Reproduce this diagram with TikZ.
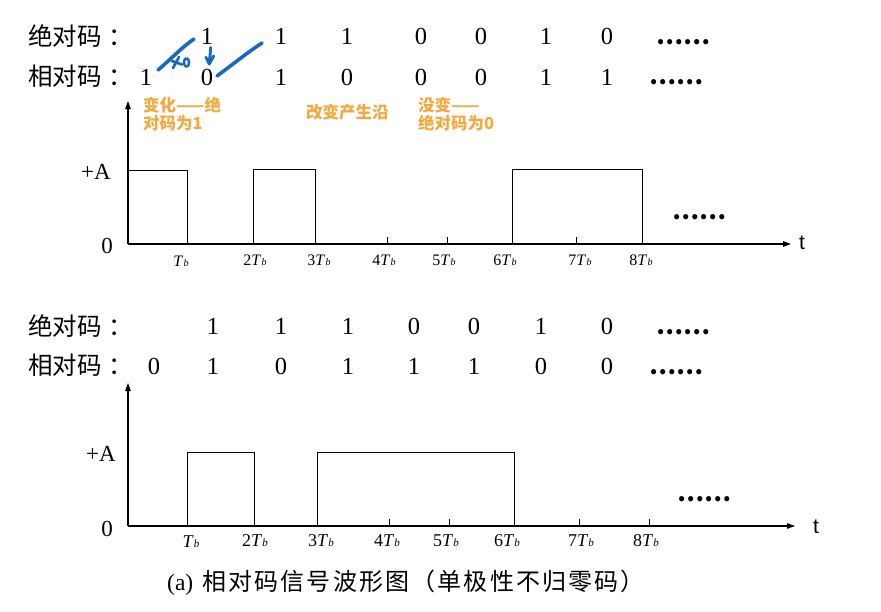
\documentclass[tikz,border=0pt]{standalone}
\usepackage{fontspec}
\setmainfont{Liberation Serif}
\newfontfamily\cjk{Noto Sans CJK SC}
\newfontfamily\cjkwide[LetterSpace=9]{Noto Sans CJK SC}
\newfontfamily\lsans{Liberation Sans}
\usetikzlibrary{arrows.meta}
\definecolor{anno}{RGB}{245,168,60}
\definecolor{pen}{RGB}{25,105,190}
\newcommand{\TbLab}[1]{#1\textit{T}\kern0.2pt{\fontsize{10}{10}\selectfont\textit{b}}}
\newcommand{\TbLabB}[1]{#1\textit{T}\kern0.2pt{\fontsize{11}{11}\selectfont\textit{b}}}
\tikzset{
  rowlabel/.style={font=\cjk\fontsize{24.5}{24.5}\selectfont, anchor=west, inner sep=0pt},
  digit/.style={font=\fontsize{24.5}{24.5}\selectfont, inner sep=0pt},
  dotsx/.style={font=\cjk\bfseries\fontsize{24}{24}\selectfont, inner sep=0pt, anchor=west},
  note/.style={font=\cjk\bfseries\fontsize{16.5}{18}\selectfont, text=anno, align=left, anchor=north west, inner sep=0pt},
  tlab/.style={font=\fontsize{16}{16}\selectfont, inner sep=0pt},
  tlabB/.style={font=\fontsize{18}{18}\selectfont, inner sep=0pt},
  level/.style={font=\fontsize{23}{23}\selectfont, inner sep=0pt},
  tname/.style={font=\lsans\fontsize{21}{21}\selectfont, inner sep=0pt},
  axis/.style={line width=1.1pt, -{Triangle[length=8pt,width=5.5pt]}},
  pulse/.style={line width=0.8pt},
  tickmark/.style={line width=0.8pt},
  pen/.style={draw=pen, line width=3.6pt, line cap=round, line join=round}
}
\begin{document}
\begin{tikzpicture}[x=1pt,y=-1pt]
\useasboundingbox (0,0) rectangle (881,611);

% ---------------- top section ----------------
\node[rowlabel] (abs1) at (28,36) {绝对码\kern7pt：};
\node[rowlabel] (rel1) at (28,76) {相对码\kern7pt：};
\foreach \x/\v [count=\i] in {207/1,281/1,347/1,421/0,481/0,546/1,607/0}
  \node[digit] (a1\i) at (\x,36) {\v};
\foreach \x/\v [count=\i] in {146/1,207/0,281/1,347/0,421/0,481/0,546/1,607/1}
  \node[digit] (r1\i) at (\x,77) {\v};
\node[dotsx] (d1a) at (656,42) {……};
\node[dotsx] (d1b) at (649,82) {……};

% handwriting
\draw[pen] (158,70) .. controls (170,60) and (182,47) .. (194,39);
\draw[pen, line width=2.7pt] (173,68) -- (179,57) (172,61) -- (182,64.5);
\draw[pen, line width=2.5pt] (186.5,62.5) ellipse (2.6 and 4.2);
\draw[pen, line width=2.9pt] (210.7,47.5) -- (209.3,64) (206,57.3) -- (209.3,64) -- (213.7,56);
\draw[pen] (217,76) .. controls (232,65) and (248,52) .. (262,43);

% notes
\node[note] (n1) at (143,97) {变化——绝\\对码为1};
\node[note, anchor=west] (n2) at (306,112) {改变产生沿};
\node[note] (n3) at (418,97) {没变——\\绝对码为0};

% axes
\coordinate (o1) at (128,244);
\coordinate (y1) at (128,101);
\coordinate (x1) at (791,244);
\draw[axis] (o1) -- (y1);
\draw[axis] (o1) -- (x1);
\node[tname] (t1) at (802,243) {t};
\node[level] (A1) at (96,172) {+A};
\node[level] (z1) at (107,246) {0};

% waveform
\draw[pulse] (128,170) -- (187,170) -- (187,244);
\draw[pulse] (253,244) -- (253,169) -- (315,169) -- (315,244);
\draw[pulse] (512,244) -- (512,169) -- (642,169) -- (642,244);
\foreach \x in {387,447,576}
  \draw[tickmark] (\x,244) -- (\x,237);

\node[tlab] (tb11) at (181,261) {\TbLab{}};
\node[tlab] (tb12) at (255,260) {\TbLab{2}};
\node[tlab] (tb13) at (319,260) {\TbLab{3}};
\node[tlab] (tb14) at (384,260) {\TbLab{4}};
\node[tlab] (tb15) at (444,260) {\TbLab{5}};
\node[tlab] (tb16) at (505,260) {\TbLab{6}};
\node[tlab] (tb17) at (580,260) {\TbLab{7}};
\node[tlab] (tb18) at (641,260) {\TbLab{8}};
\node[dotsx] (d1c) at (672,217) {……};

% ---------------- bottom section ----------------
\node[rowlabel] (abs2) at (28,326) {绝对码\kern7pt：};
\node[rowlabel] (rel2) at (28,365) {相对码\kern7pt：};
\foreach \x/\v [count=\i] in {213/1,281/1,348/1,414/0,474/0,541/1,607/0}
  \node[digit] (a2\i) at (\x,326) {\v};
\foreach \x/\v [count=\i] in {154/0,213/1,281/0,348/1,414/1,474/1,541/0,607/0}
  \node[digit] (r2\i) at (\x,366) {\v};
\node[dotsx] (d2a) at (656,332) {……};
\node[dotsx] (d2b) at (649,372) {……};

\coordinate (o2) at (128,526);
\coordinate (y2) at (128,383);
\coordinate (x2) at (795,526);
\draw[axis] (o2) -- (y2);
\draw[axis] (o2) -- (x2);
\node[tname] (t2) at (816,527) {t};
\node[level] (A2) at (101,454) {+A};
\node[level] (z2) at (107,529) {0};

\draw[pulse] (187,526) -- (187,452) -- (254,452) -- (254,526);
\draw[pulse] (317,526) -- (317,452) -- (514,452) -- (514,526);
\foreach \x in {389,449,579,649}
  \draw[tickmark] (\x,526) -- (\x,519);

\node[tlabB] (tb21) at (191,542) {\TbLabB{}};
\node[tlabB] (tb22) at (255,541) {\TbLabB{2}};
\node[tlabB] (tb23) at (321,541) {\TbLabB{3}};
\node[tlabB] (tb24) at (387,541) {\TbLabB{4}};
\node[tlabB] (tb25) at (446,541) {\TbLabB{5}};
\node[tlabB] (tb26) at (507,541) {\TbLabB{6}};
\node[tlabB] (tb27) at (581,541) {\TbLabB{7}};
\node[tlabB] (tb28) at (646,541) {\TbLabB{8}};
\node[dotsx] (d2c) at (677,499) {……};

% caption
\node[anchor=west, inner sep=0pt] (cap) at (167,583)
  {{\fontsize{23.5}{23.5}\selectfont (a)}\hspace{9pt}{\cjkwide\fontsize{24}{24}\selectfont 相对码信号波形图（单极性不归零码）}};
\end{tikzpicture}
\end{document}
